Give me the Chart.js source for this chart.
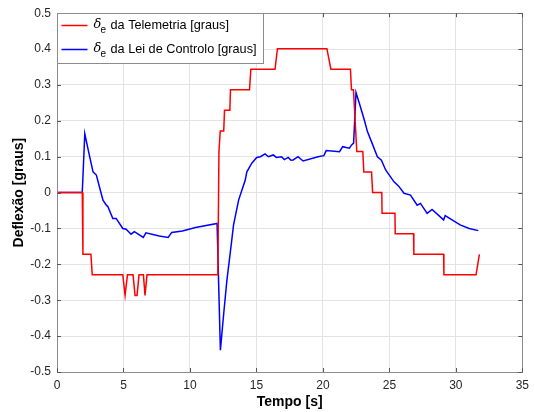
<!DOCTYPE html>
<html lang="pt">
<head>
    <meta charset="UTF-8">
    <title>Deflexão do leme de profundidade</title>
    <style>
        html, body {
            margin: 0;
            padding: 0;
            background-color: #fff;
        }
        .chart-container {
            position: relative;
            width: 535px;
            height: 412px;
        }
    </style>
    <script src="https://cdn.jsdelivr.net/npm/chart.js"></script>
</head>
<body>
    <div class="chart-container">
        <canvas id="deflexaoChart"></canvas>
    </div>
    <script>
        // Eixos
        const xTicks = [0, 5, 10, 15, 20, 25, 30, 35];
        const yTicks = [-0.5, -0.4, -0.3, -0.2, -0.1, 0, 0.1, 0.2, 0.3, 0.4, 0.5];

        // δe da Telemetria [graus]
        const telemetriaX = [0, 1.9, 1.95, 2.55, 2.65, 4.95, 5.12, 5.3, 5.72, 5.87, 6.02, 6.17, 6.5, 6.62, 6.77,
            12.1, 12.18, 12.28, 12.32, 12.54, 12.6, 13.0, 13.05, 14.48, 14.58, 16.4, 16.58, 20.3, 20.6,
            22.07, 22.15, 22.3, 22.55, 23.0, 23.08, 23.66, 23.74, 24.43, 24.45, 25.42, 25.44, 26.82, 26.84,
            29.08, 29.1, 31.52, 31.77];
        const telemetriaY = [0, 0, -0.1719, -0.1719, -0.2292, -0.2292, -0.2865, -0.2292, -0.2292, -0.2865, -0.2865, -0.2292, -0.2292, -0.2865, -0.2292,
            -0.2292, 0.1146, 0.1719, 0.1719, 0.1719, 0.2292, 0.2292, 0.2865, 0.2865, 0.3438, 0.3438, 0.4011, 0.4011, 0.3438,
            0.3438, 0.2865, 0.2865, 0.1146, 0.1146, 0.0573, 0.0573, 0, 0, -0.0573, -0.0573, -0.1146, -0.1146, -0.1719,
            -0.1719, -0.2292, -0.2292, -0.1719];

        // δe da Lei de Controlo [graus]
        const leiX = [0, 1.9, 2.09, 2.4, 2.71, 2.96, 3.2, 3.46, 3.71, 3.83, 4.2, 4.45, 4.95, 5.2, 5.57, 5.82, 6.49, 6.69,
            7.69, 8.36, 8.63, 9.43, 10.42, 12.04, 12.29, 12.54, 12.78, 13.04, 13.28, 13.66, 14.16, 14.28, 14.65,
            15.02, 15.3, 15.65, 15.9, 16.27, 16.5, 16.89, 17.1, 17.39, 17.6, 17.76, 18.13, 18.51, 19.63, 20.07, 20.25,
            21.25, 21.49, 21.99, 22.16, 22.31, 22.49, 22.74, 23.11, 23.35, 23.6, 24.1, 24.4, 24.72, 25.35, 25.7, 26.1,
            26.59, 27.09, 27.34, 27.84, 28.21, 29.08, 29.2, 30.32, 31.0, 31.69];
        const leiY = [0, 0, 0.164, 0.11, 0.058, 0.049, 0.015, -0.021, -0.035, -0.039, -0.072, -0.072, -0.1, -0.102, -0.116, -0.109, -0.125, -0.112,
            -0.121, -0.125, -0.111, -0.107, -0.097, -0.086, -0.439, -0.337, -0.244, -0.165, -0.09, -0.021, 0.035, 0.058, 0.082,
            0.098, 0.1, 0.108, 0.1, 0.105, 0.098, 0.1, 0.092, 0.098, 0.09, 0.091, 0.1, 0.088, 0.1, 0.103, 0.117,
            0.114, 0.128, 0.124, 0.133, 0.138, 0.279, 0.249, 0.203, 0.17, 0.147, 0.1, 0.09, 0.063, 0.03, 0.018, -0.002,
            -0.007, -0.035, -0.03, -0.058, -0.047, -0.076, -0.064, -0.09, -0.1, -0.106];

        function toPoints(xs, ys) {
            return xs.map((x, i) => ({ x: x, y: ys[i] }));
        }

        const corTexto = '#262626';
        const corBorda = '#8c8c8c';

        // caixa, marcas de escala e legenda ao estilo MATLAB
        const estiloMatlab = {
            id: 'estiloMatlab',
            afterDatasetsDraw(chart) {
                const ctx = chart.ctx;
                const a = chart.chartArea;
                const xs = chart.scales.x, ys = chart.scales.y;
                ctx.save();
                ctx.strokeStyle = corBorda;
                ctx.lineWidth = 1;
                ctx.strokeRect(Math.round(a.left) + 0.5, Math.round(a.top) + 0.5,
                    Math.round(a.right - a.left), Math.round(a.bottom - a.top));
                ctx.strokeStyle = '#555';
                ctx.beginPath();
                xs.ticks.forEach(t => {
                    const px = Math.round(xs.getPixelForValue(t.value)) + 0.5;
                    ctx.moveTo(px, a.bottom); ctx.lineTo(px, a.bottom - 4);
                    ctx.moveTo(px, a.top); ctx.lineTo(px, a.top + 4);
                });
                ys.ticks.forEach(t => {
                    const py = Math.round(ys.getPixelForValue(t.value)) + 0.5;
                    ctx.moveTo(a.left, py); ctx.lineTo(a.left + 4, py);
                    ctx.moveTo(a.right, py); ctx.lineTo(a.right - 4, py);
                });
                ctx.stroke();

                // legenda
                const lx = Math.round(a.left) + 0.5, ly = Math.round(a.top) + 0.5;
                const lw = 206, lh = 50;
                ctx.fillStyle = '#fff';
                ctx.fillRect(lx, ly, lw, lh);
                ctx.strokeStyle = corBorda;
                ctx.strokeRect(lx, ly, lw, lh);
                chart.data.datasets.forEach((ds, i) => {
                    const yRow = ly + 12 + i * 24;
                    ctx.strokeStyle = ds.borderColor;
                    ctx.lineWidth = 1.5;
                    ctx.beginPath();
                    ctx.moveTo(lx + 4, yRow);
                    ctx.lineTo(lx + 30, yRow);
                    ctx.stroke();
                    ctx.fillStyle = '#000';
                    ctx.textBaseline = 'middle';
                    ctx.textAlign = 'left';
                    ctx.font = 'italic 13px "DejaVu Serif", serif';
                    ctx.fillText('δ', lx + 36, yRow - 1);
                    ctx.font = '10px "Liberation Sans", Arial, sans-serif';
                    ctx.fillText('e', lx + 43, yRow + 5);
                    ctx.font = '12.7px "Liberation Sans", Arial, sans-serif';
                    ctx.fillText(ds.label, lx + 53, yRow);
                });
                ctx.restore();
            }
        };

        const ctx = document.getElementById('deflexaoChart').getContext('2d');
        new Chart(ctx, {
            type: 'line',
            data: {
                datasets: [
                    {
                        label: 'da Telemetria [graus]',
                        data: toPoints(telemetriaX, telemetriaY),
                        borderColor: '#ff0000',
                        borderWidth: 1.5,
                        pointRadius: 0,
                        fill: false,
                        tension: 0
                    },
                    {
                        label: 'da Lei de Controlo [graus]',
                        data: toPoints(leiX, leiY),
                        borderColor: '#0000ff',
                        borderWidth: 1.5,
                        pointRadius: 0,
                        fill: false,
                        tension: 0
                    }
                ]
            },
            plugins: [estiloMatlab],
            options: {
                responsive: true,
                maintainAspectRatio: false,
                animation: false,
                layout: { padding: { top: 13, right: 9, left: 0, bottom: 0 } },
                plugins: {
                    legend: { display: false },
                    tooltip: { enabled: false }
                },
                scales: {
                    x: {
                        type: 'linear',
                        min: xTicks[0],
                        max: xTicks[xTicks.length - 1],
                        afterBuildTicks: s => { s.ticks = xTicks.map(v => ({ value: v })); },
                        afterFit: s => { s.height = 40; },
                        grid: { color: '#e3e3e3', drawTicks: false },
                        border: { display: false },
                        ticks: {
                            padding: 6,
                            color: corTexto,
                            font: { family: '"Liberation Sans", Arial, sans-serif', size: 12 },
                            maxRotation: 0,
                            callback: v => String(v)
                        },
                        title: {
                            display: true,
                            text: 'Tempo [s]',
                            color: '#000',
                            font: { family: '"Liberation Sans", Arial, sans-serif', size: 14, weight: 'bold' },
                            padding: { top: 0, bottom: 1 }
                        }
                    },
                    y: {
                        min: yTicks[0],
                        max: yTicks[yTicks.length - 1],
                        afterBuildTicks: s => { s.ticks = yTicks.map(v => ({ value: v })); },
                        afterFit: s => { s.width = 57; },
                        grid: { color: '#e3e3e3', drawTicks: false },
                        border: { display: false },
                        ticks: {
                            padding: 6,
                            color: corTexto,
                            font: { family: '"Liberation Sans", Arial, sans-serif', size: 12 },
                            callback: v => String(Math.round(v * 10) / 10)
                        },
                        title: {
                            display: true,
                            text: 'Deflexão [graus]',
                            color: '#000',
                            font: { family: '"Liberation Sans", Arial, sans-serif', size: 14, weight: 'bold' },
                            padding: { top: 11, bottom: 0 }
                        }
                    }
                }
            }
        });
    </script>
</body>
</html>
